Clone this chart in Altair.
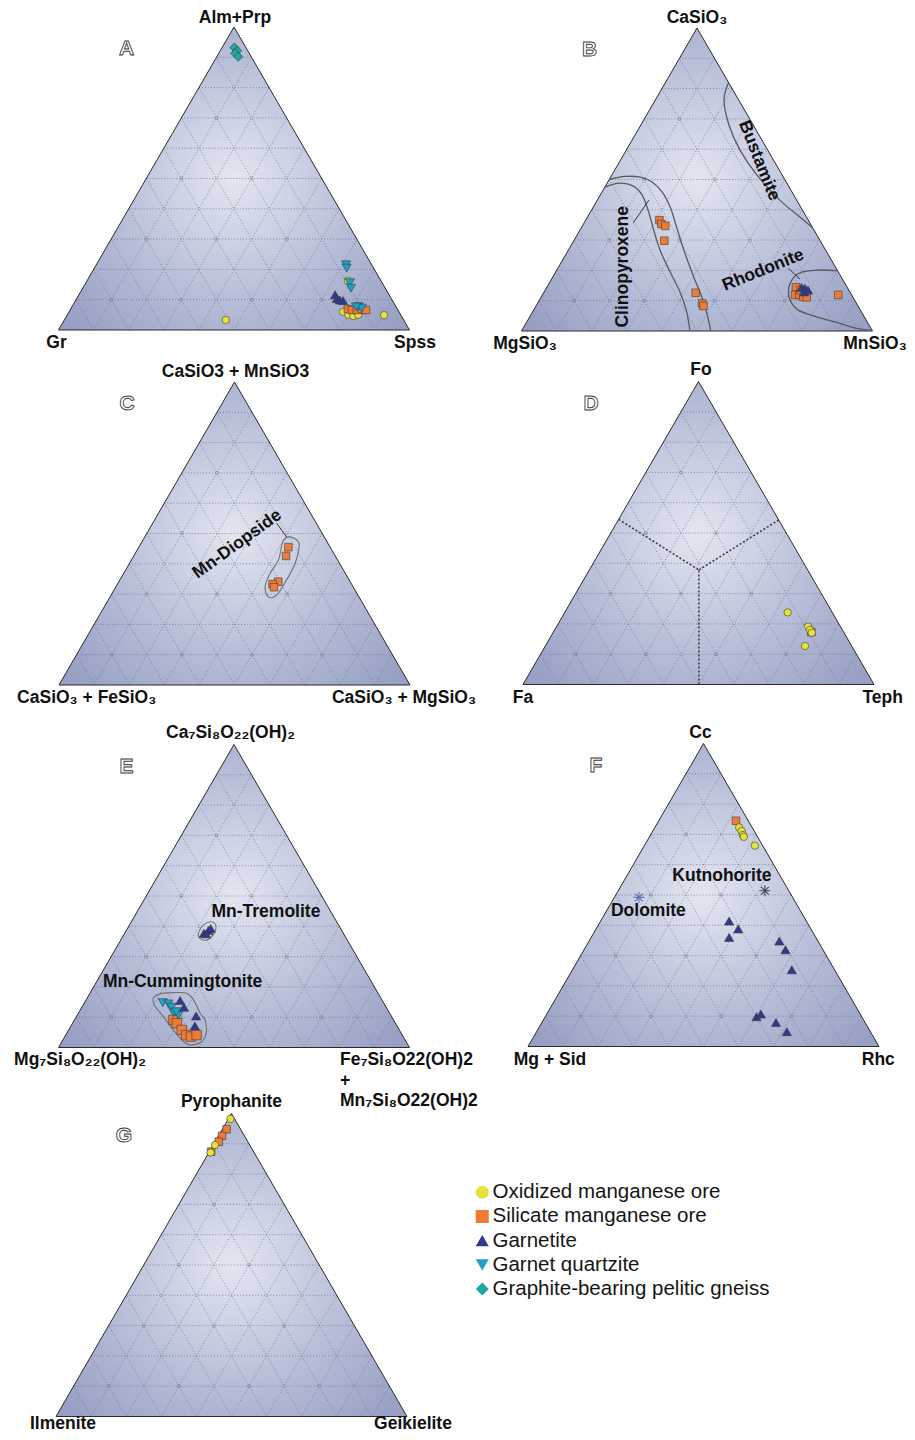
import altair as alt
import pandas as pd

# ---------------------------------------------------------------- data
# ternary compositions in percent: (top apex %, right apex %); left apex = rest
GROUPS = ["Oxidized manganese ore", "Silicate manganese ore", "Garnetite",
          "Garnet quartzite", "Graphite-bearing pelitic gneiss"]
COLORS = ["#e3e33b", "#ef7b36", "#2f3a8d", "#1ca2c6", "#22a6a4"]
SHAPES = ["circle", "square", "triangle-up", "triangle-down", "diamond"]

A_OXIDIZED = [(16.3, 74.3), (6.0, 78.1), (5.0, 80.1), (4.6, 81.7), (5.0, 82.9), (4.9, 90.3), (3.3, 46.0)]
A_SILICATE = [(6.9, 79.0), (6.6, 80.3), (6.6, 81.7), (6.9, 83.0), (6.6, 84.3)]
A_GARNETITE = [(11.6, 73.0), (10.4, 74.1), (9.9, 75.2), (9.7, 76.2)]
A_QUARTZITE = [(21.5, 71.2), (20.4, 71.9), (15.6, 75.2), (13.8, 76.4), (7.7, 81.6), (7.2, 82.8), (7.6, 81.0)]
A_GNEISS = [(93.2, 3.5), (92.2, 4.8), (91.3, 4.7), (90.2, 6.1)]

B_SILICATE = [(36.6, 21.0), (35.3, 22.2), (34.7, 23.6), (29.8, 25.8), (12.6, 43.3), (9.1, 46.9), (8.3, 47.7),
              (14.4, 71.0), (11.9, 72.0), (11.9, 73.2), (11.3, 74.6), (11.1, 75.7), (13.5, 72.8), (11.9, 84.3)]
B_GARNETITE = [(14.4, 72.6), (14.1, 73.7), (13.5, 74.9), (12.9, 74.1)]

C_SILICATE = [(45.5, 42.6), (42.6, 43.4), (34.1, 45.4), (33.3, 44.2), (32.3, 45.1)]

D_SILICATE = [(17.3, 73.5)]
D_OXIDIZED = [(23.8, 63.5), (19.1, 71.7), (18.0, 72.8), (17.1, 73.7), (12.7, 74.0)]

E_SILICATE = [(9.1, 28.2), (8.0, 29.7), (5.8, 32.2), (4.1, 34.3), (3.6, 35.9), (4.1, 37.3)]
E_QUARTZITE = [(14.8, 22.3), (14.4, 24.1), (13.3, 25.6), (11.5, 27.0), (10.7, 28.8), (11.8, 27.6)]
E_GARNETITE = [(37.7, 22.6), (38.6, 23.4), (39.3, 23.7), (37.5, 23.3),
               (15.5, 26.9), (13.3, 29.1), (10.4, 34.0), (7.1, 35.3)]

F_SILICATE = [(74.5, 22.0)]
F_OXIDIZED = [(72.3, 24.0), (71.1, 25.3), (69.8, 26.3), (69.2, 26.9), (66.3, 31.5)]
F_GARNETITE = [(41.4, 36.6), (38.8, 40.5), (36.0, 39.3), (34.8, 54.2), (31.9, 57.4), (25.3, 62.5),
               (9.8, 60.2), (10.7, 61.0), (7.9, 66.7), (4.9, 71.3)]
F_REFERENCE = [("Kutnohorite", 51.4, 41.8, "#111111"), ("Dolomite", 49.2, 7.0, "#3b4aa3")]

G_SILICATE = [(94.8, 1.2), (92.6, 1.0), (90.7, 1.0), (87.4, 0.5)]
G_OXIDIZED = [(98.2, 0.6), (89.6, 0.5), (87.1, 0.5)]

# field boundaries (top %, right %)
B_BUSTAMITE = [(82.0, 18.0), (76.2, 19.6), (68.0, 25.1), (59.7, 32.4), (51.5, 41.3), (43.2, 52.0), (37.6, 60.5), (34.0, 66.0)]
B_CPX_INNER = [(47.5, 0.0), (48.8, 3.6), (47.9, 7.8), (44.9, 11.9), (39.9, 16.1), (34.0, 20.5), (26.7, 26.1),
               (19.5, 32.6), (12.9, 38.7), (6.9, 43.5), (0.0, 48.0)]
B_CPX_OUTER = [(50.0, 0.0), (51.0, 4.0), (50.8, 8.4), (49.2, 12.6), (45.9, 17.1), (40.9, 21.9), (35.0, 26.5),
               (26.7, 32.9), (18.5, 39.6), (10.2, 46.6), (4.3, 51.0), (0.0, 53.9)]
B_RHODONITE = [(19.9, 80.1), (20.1, 74.0), (19.2, 69.7), (16.8, 68.6), (13.5, 69.3), (10.2, 71.4), (6.9, 75.4),
               (4.7, 81.7), (2.5, 89.5), (0.9, 95.0), (0.2, 99.5)]
C_DIOPSIDE = [(47.3, 44.5), (48.9, 41.3), (47.3, 40.1), (41.3, 41.9), (36.9, 41.7), (32.4, 42.5), (29.1, 45.1),
              (29.7, 47.2), (34.7, 47.5), (40.2, 47.2), (45.1, 45.8)]
D_SEPARATORS = [[(54.5, 0.0), (37.8, 31.2)], [(54.3, 45.7), (37.8, 31.2)], [(0.0, 50.1), (37.8, 31.2)]]
E_TREMOLITE = [(36.0, 22.3), (37.7, 21.0), (40.4, 21.0), (41.5, 22.9), (39.9, 24.9), (37.1, 25.5), (35.5, 24.5)]
E_CUMMINGTONITE = [(16.2, 18.9), (17.7, 20.1), (18.1, 23.7), (17.9, 27.6), (15.7, 30.6), (11.3, 34.7), (9.1, 37.2),
                   (4.7, 39.7), (1.9, 39.8), (0.8, 37.1), (2.5, 33.9), (5.8, 29.8), (10.2, 24.8), (13.5, 20.8)]
LEADERS = [("B", 35.7, 14.0, 43.2, 14.7), ("B", 20.7, 65.7, 17.1, 70.8), ("C", 53.4, 35.3, 48.9, 40.4)]

REGION_LABELS = [("B", "Bustamite", 56.2, 39.6, 68), ("B", "Clinopyroxene", 21.2, 18.4, 270),
                 ("B", "Rhodonite", 20.1, 58.8, 338), ("C", "Mn-Diopside", 46.5, 27.5, 324),
                 ("E", "Mn-Tremolite", 44.6, 36.8, 0), ("E", "Mn-Cummingtonite", 21.7, 24.5, 0),
                 ("F", "Kutnohorite", 56.3, 27.1, 0), ("F", "Dolomite", 44.8, 11.9, 0)]

VERTEX_LABELS = [
    ("A", "top", "Alm+Prp", 1, -9.5, "center"), ("A", "left", "Gr", -2, 13, "center"), ("A", "right", "Spss", 5.5, 13, "center"),
    ("B", "top", "CaSiO₃", 0, -10.5, "center"), ("B", "left", "MgSiO₃", 3.5, 13, "center"), ("B", "right", "MnSiO₃", 2.5, 13, "center"),
    ("C", "top", "CaSiO3 + MnSiO3", 1, -10.5, "center"), ("C", "left", "CaSiO₃ + FeSiO₃", 27.7, 13, "center"),
    ("C", "right", "CaSiO₃ + MgSiO₃", -6, 13, "center"),
    ("D", "top", "Fo", 2.5, -11.5, "center"), ("D", "left", "Fa", 0, 13.5, "center"), ("D", "right", "Teph", 8.7, 13.5, "center"),
    ("E", "top", "Ca₇Si₈O₂₂(OH)₂", -3.5, -12, "center"), ("E", "left", "Mg₇Si₈O₂₂(OH)₂", 21.5, 12.5, "center"),
    ("E", "right", "Fe₇Si₈O22(OH)2", -69.5, 12.5, "left"), ("E", "right", "+", -69.5, 33, "left"),
    ("E", "right", "Mn₇Si₈O22(OH)2", -69.5, 53.5, "left"),
    ("F", "top", "Cc", -3, -11, "center"), ("F", "left", "Mg + Sid", 22, 13.5, "center"), ("F", "right", "Rhc", -0.7, 13.5, "center"),
    ("G", "top", "Pyrophanite", 0, -12, "center"), ("G", "left", "Ilmenite", 7, 7.0, "center"), ("G", "right", "Geikielite", 6, 7.0, "center"),
]

# ---------------------------------------------------------------- layout
W, H = 351.0, 303.0
PANELS = {"A": (58.5, 330.0), "B": (521.5, 331.0), "C": (59.0, 685.0), "D": (523.0, 684.5),
          "E": (58.5, 1047.5), "F": (528.0, 1046.5), "G": (56.0, 1416.5)}
LETTER_DX, LETTER_DY = 68.0, 22.0
FONT = "Liberation Sans"
VERTEX = {"top": (100.0, 0.0), "left": (0.0, 0.0), "right": (0.0, 100.0)}


def to_xy(p, t, r):
    lx, base = PANELS[p]
    t, r = t / 100.0, r / 100.0
    return lx + W * (r + t / 2.0), base - H * t


# background triangles / outlines
bg_rows, outline_rows = [], []
for p in PANELS:
    base = PANELS[p][1]
    for i, v in enumerate(["left", "top", "right", "left"]):
        x, y = to_xy(p, *VERTEX[v])
        outline_rows.append({"panel": p, "x": x, "y": y, "i": i})
        if i < 3:
            bg_rows.append({"panel": p, "x": x, "y": y, "y2": base})
bg_df = pd.DataFrame(bg_rows)
outline_df = pd.DataFrame(outline_rows)

# grid (10 % steps)
grid_rows, dot_rows = [], []
for p in PANELS:
    for k in range(1, 10):
        f = k * 10.0
        for (t1, r1), (t2, r2) in [((f, 0), (f, 100 - f)), ((0, f), (100 - f, f)), ((0, 100 - f), (100 - f, 0))]:
            x1, y1 = to_xy(p, t1, r1)
            x2, y2 = to_xy(p, t2, r2)
            grid_rows.append({"x": x1, "y": y1, "x2": x2, "y2": y2})
    for k in (3, 5, 7, 9):
        for j in range(1, k, 2):
            x, y = to_xy(p, 100 - 10 * k, 10 * j)
            dot_rows.append({"x": x, "y": y})
grid_df = pd.DataFrame(grid_rows)
dot_df = pd.DataFrame(dot_rows)

# points
SETS = [("A", 0, A_OXIDIZED), ("A", 1, A_SILICATE), ("A", 2, A_GARNETITE), ("A", 3, A_QUARTZITE), ("A", 4, A_GNEISS),
        ("B", 1, B_SILICATE), ("B", 2, B_GARNETITE), ("C", 1, C_SILICATE),
        ("D", 1, D_SILICATE), ("D", 0, D_OXIDIZED),
        ("E", 1, E_SILICATE), ("E", 3, E_QUARTZITE), ("E", 2, E_GARNETITE),
        ("F", 1, F_SILICATE), ("F", 0, F_OXIDIZED), ("F", 2, F_GARNETITE),
        ("G", 1, G_SILICATE), ("G", 0, G_OXIDIZED)]
SIZE = {0: 55, 1: 58, 2: 85, 3: 85, 4: 85}
pt_rows = []
k = 0
for p, g, pts in SETS:
    for t, r in pts:
        x, y = to_xy(p, t, r)
        sz = SIZE[g]
        if p == "E" and g == 1:
            sz = 90
        pt_rows.append({"x": x, "y": y, "group": GROUPS[g], "sz": sz, "k": k})
        k += 1
pt_df = pd.DataFrame(pt_rows)

star_rows = []
for name, t, r, c in F_REFERENCE:
    x, y = to_xy("F", t, r)
    star_rows.append({"x": x, "y": y, "c": c})
star_df = pd.DataFrame(star_rows)


def line_rows(p, cid, pts):
    out = []
    for i, (t, r) in enumerate(pts):
        x, y = to_xy(p, t, r)
        out.append({"cid": cid, "x": x, "y": y, "i": i})
    return out


open_df = pd.DataFrame(line_rows("B", "bus", B_BUSTAMITE) + line_rows("B", "cpx1", B_CPX_INNER)
                       + line_rows("B", "cpx2", B_CPX_OUTER) + line_rows("B", "rho", B_RHODONITE))
closed_df = pd.DataFrame(line_rows("C", "dio", C_DIOPSIDE) + line_rows("E", "tre", E_TREMOLITE)
                         + line_rows("E", "cum", E_CUMMINGTONITE))
sep_rows = []
for n, seg in enumerate(D_SEPARATORS):
    sep_rows += line_rows("D", "s%d" % n, seg)
sep_df = pd.DataFrame(sep_rows)

lead_rows = []
for p, t1, r1, t2, r2 in LEADERS:
    x1, y1 = to_xy(p, t1, r1)
    x2, y2 = to_xy(p, t2, r2)
    lead_rows.append({"x": x1, "y": y1, "x2": x2, "y2": y2})
lead_df = pd.DataFrame(lead_rows)

reg_rows = []
for p, txt, t, r, ang in REGION_LABELS:
    x, y = to_xy(p, t, r)
    reg_rows.append({"x": x, "y": y, "label": txt, "ang": ang})
reg_df = pd.DataFrame(reg_rows)

vl_c, vl_l = [], []
for p, v, txt, dx, dy, al in VERTEX_LABELS:
    x, y = to_xy(p, *VERTEX[v])
    row = {"x": x + dx, "y": y + dy, "label": txt}
    (vl_c if al == "center" else vl_l).append(row)
vlc_df = pd.DataFrame(vl_c)
vll_df = pd.DataFrame(vl_l)

let_rows = []
for p in PANELS:
    x, y = to_xy(p, 100, 0)
    let_rows.append({"x": PANELS[p][0] + LETTER_DX, "y": y + LETTER_DY, "label": p})
let_df = pd.DataFrame(let_rows)

# ---------------------------------------------------------------- chart
xs = alt.Scale(domain=[8, 907], nice=False, zero=False)
ys = alt.Scale(domain=[8, 1432], nice=False, zero=False, reverse=True)
X = alt.X("x:Q", scale=xs, axis=None)
Y = alt.Y("y:Q", scale=ys, axis=None)

GRAD = alt.RadialGradient(gradient="radial",
                          stops=[alt.GradientStop(color="#e3e6f0", offset=0),
                                 alt.GradientStop(color="#b7bed8", offset=0.55),
                                 alt.GradientStop(color="#97a0c4", offset=1)],
                          x1=0.5, y1=0.5, r1=0, x2=0.5, y2=0.5, r2=0.62)

bg = alt.Chart(bg_df).mark_area(fill=GRAD).encode(x=X, y=Y, y2="y2:Q", detail="panel:N")
grid = alt.Chart(grid_df).mark_rule(color="#6c7491", strokeWidth=0.8, strokeDash=[1, 2]).encode(
    x=X, y=Y, x2="x2:Q", y2="y2:Q")
dots = alt.Chart(dot_df).mark_point(shape="circle", size=10, color="#6c7491", strokeWidth=0.6).encode(x=X, y=Y)
outline = alt.Chart(outline_df).mark_line(color="#2a2a2a", strokeWidth=1).encode(
    x=X, y=Y, detail="panel:N", order="i:Q")
curves = alt.Chart(open_df).mark_line(color="#5a5a5a", strokeWidth=1.3, interpolate="cardinal").encode(
    x=X, y=Y, detail="cid:N", order="i:Q")
closed = alt.Chart(closed_df).mark_line(color="#707070", strokeWidth=1.1, interpolate="cardinal-closed").encode(
    x=X, y=Y, detail="cid:N", order="i:Q")
seps = alt.Chart(sep_df).mark_line(color="#3c3c3c", strokeWidth=1.6, strokeDash=[2, 2]).encode(
    x=X, y=Y, detail="cid:N", order="i:Q")
leads = alt.Chart(lead_df).mark_rule(color="#333333", strokeWidth=1).encode(x=X, y=Y, x2="x2:Q", y2="y2:Q")

LEG = alt.Legend(title=None, orient="none", legendX=464, legendY=1174, labelFont=FONT, labelFontSize=20.5,
                 labelColor="#151515", labelLimit=500, symbolSize=170, symbolStrokeColor="#333333",
                 symbolStrokeWidth=0.7, rowPadding=3.2, labelOffset=0, padding=0)
points = alt.Chart(pt_df).mark_point(filled=True, stroke="#3a3a3a", strokeWidth=0.6, opacity=1).encode(
    x=X, y=Y,
    fill=alt.Fill("group:N", scale=alt.Scale(domain=GROUPS, range=COLORS), legend=LEG),
    shape=alt.Shape("group:N", scale=alt.Scale(domain=GROUPS, range=SHAPES), legend=LEG),
    size=alt.Size("sz:Q", scale=None),
    order=alt.Order("k:Q"))

STAR = "M0,-1L0,1M-1,0L1,0M-0.7,-0.7L0.7,0.7M-0.7,0.7L0.7,-0.7"
stars = alt.Chart(star_df).mark_point(shape=STAR, size=120, strokeWidth=1.1, filled=False).encode(
    x=X, y=Y, stroke=alt.Stroke("c:N", scale=None))

vtext = alt.Chart(vlc_df).mark_text(font=FONT, fontSize=17.5, fontWeight="bold", color="#111111",
                                    align="center", baseline="middle").encode(x=X, y=Y, text="label:N")
vtext_l = alt.Chart(vll_df).mark_text(font=FONT, fontSize=17.5, fontWeight="bold", color="#111111",
                                      align="left", baseline="middle").encode(x=X, y=Y, text="label:N")
rtext = alt.Chart(reg_df).mark_text(font=FONT, fontSize=17.5, fontWeight="bold", color="#111111",
                                    align="center", baseline="middle").encode(
    x=X, y=Y, text="label:N", angle=alt.Angle("ang:Q", scale=None))
letters = alt.Chart(let_df).mark_text(font=FONT, fontSize=21, fontWeight="bold", fill="white", stroke="#3a3a3a",
                                      strokeWidth=0.9, align="center", baseline="middle").encode(
    x=X, y=Y, text="label:N")

chart = alt.layer(bg, grid, dots, outline, curves, closed, seps, leads, points, stars,
                  vtext, vtext_l, rtext, letters).properties(
    width=899, height=1424, padding=0, autosize=alt.AutoSizeParams(type="none"), background="white"
).configure_view(stroke="transparent")

chart.save("out.html", embed_options={"renderer": "svg", "actions": False})
